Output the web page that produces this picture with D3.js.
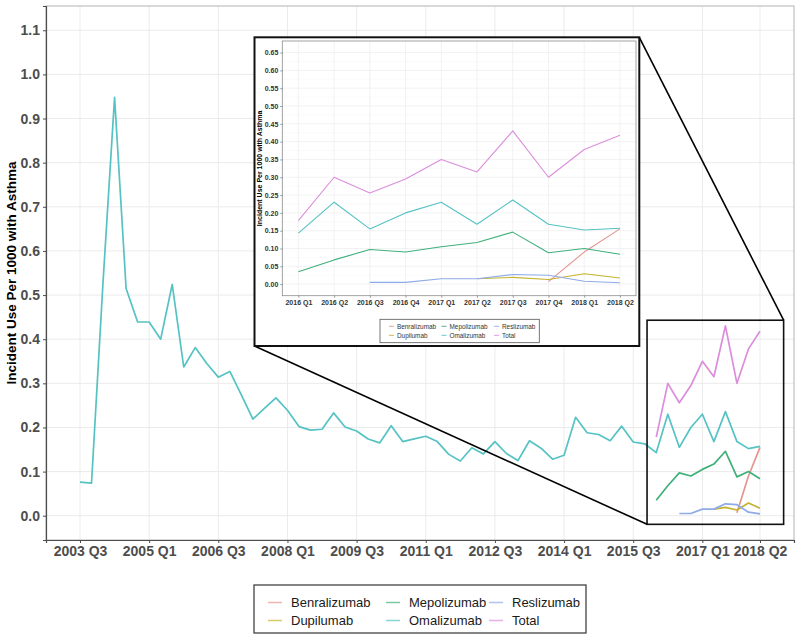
<!DOCTYPE html>
<html><head><meta charset="utf-8">
<script src="https://cdn.jsdelivr.net/npm/d3@7/dist/d3.min.js"></script>
<style>body{margin:0;background:#fff}svg{display:block;font-family:"Liberation Sans",Arial,sans-serif}</style>
</head><body><svg id="c" width="800" height="640"></svg>
<script>
const quarters = ["2003 Q3","2003 Q4","2004 Q1","2004 Q2","2004 Q3","2004 Q4","2005 Q1","2005 Q2","2005 Q3","2005 Q4",
"2006 Q1","2006 Q2","2006 Q3","2006 Q4","2007 Q1","2007 Q2","2007 Q3","2007 Q4","2008 Q1","2008 Q2",
"2008 Q3","2008 Q4","2009 Q1","2009 Q2","2009 Q3","2009 Q4","2010 Q1","2010 Q2","2010 Q3","2010 Q4",
"2011 Q1","2011 Q2","2011 Q3","2011 Q4","2012 Q1","2012 Q2","2012 Q3","2012 Q4","2013 Q1","2013 Q2",
"2013 Q3","2013 Q4","2014 Q1","2014 Q2","2014 Q3","2014 Q4","2015 Q1","2015 Q2","2015 Q3","2015 Q4",
"2016 Q1","2016 Q2","2016 Q3","2016 Q4","2017 Q1","2017 Q2","2017 Q3","2017 Q4","2018 Q1","2018 Q2"];
const omalizumab = [0.076,0.074,0.530,0.948,0.515,0.439,0.439,0.400,0.524,0.337,
0.381,0.345,0.314,0.327,0.274,0.219,0.243,0.267,0.239,0.202,
0.194,0.196,0.233,0.201,0.192,0.174,0.165,0.204,0.168,0.174,
0.180,0.168,0.139,0.124,0.154,0.140,0.168,0.141,0.125,0.170,
0.153,0.128,0.137,0.223,0.188,0.184,0.170,0.203,0.167,0.163,
0.143,0.230,0.155,0.200,0.230,0.168,0.236,0.168,0.152,0.157];
// 2016 Q1 .. 2018 Q2
const recentQuarters = ["2016 Q1","2016 Q2","2016 Q3","2016 Q4","2017 Q1","2017 Q2","2017 Q3","2017 Q4","2018 Q1","2018 Q2"];
const benralizumab = [null,null,null,null,null,null,null,0.007,0.090,0.155];
const dupilumab    = [null,null,null,null,null,0.015,0.019,0.013,0.029,0.017];
const mepolizumab  = [0.035,0.068,0.097,0.090,0.105,0.117,0.146,0.088,0.100,0.084];
const reslizumab   = [null,null,0.005,0.005,0.015,0.015,0.027,0.025,0.008,0.004];
const total        = [0.178,0.300,0.256,0.295,0.350,0.315,0.430,0.300,0.378,0.418];
const seriesNames = ["Benralizumab","Dupilumab","Mepolizumab","Omalizumab","Reslizumab","Total"];
const mainTickLabels = ["2003 Q3","2005 Q1","2006 Q3","2008 Q1","2009 Q3","2011 Q1","2012 Q3","2014 Q1","2015 Q3","2017 Q1","2018 Q2"];
const mainYTicks = [0.0,0.1,0.2,0.3,0.4,0.5,0.6,0.7,0.8,0.9,1.0,1.1];
const insetYTicks = [0,0.05,0.10,0.15,0.20,0.25,0.30,0.35,0.40,0.45,0.50,0.55,0.60,0.65];

const colors = {Benralizumab:"#e5948e",Dupilumab:"#c4b32e",Mepolizumab:"#3fb07a",Omalizumab:"#55c2c3",Reslizumab:"#8eaae8",Total:"#dc8ddc"};
const offset = quarters.indexOf("2016 Q1");
const recentData = {Benralizumab:benralizumab,Dupilumab:dupilumab,Mepolizumab:mepolizumab,
  Omalizumab:omalizumab.slice(offset),Reslizumab:reslizumab,Total:total};

const svg = d3.select("#c");
svg.append("rect").attr("width",800).attr("height",640).attr("fill","#fff");

// ---------- main panel ----------
const P = {l:46,r:794,t:6,b:540};
const x = d3.scaleLinear().domain([-2.95,61.95]).range([P.l,P.r]);
const y = d3.scaleLinear().domain([-0.055,1.155]).range([P.b,P.t]);
const g = svg.append("g");
g.selectAll(".gy").data(mainYTicks).join("line").attr("x1",P.l).attr("x2",P.r)
 .attr("y1",d=>y(d)).attr("y2",d=>y(d)).attr("stroke","#ebebeb").attr("stroke-width",1);
g.selectAll(".gx").data(mainTickLabels).join("line").attr("y1",P.t).attr("y2",P.b)
 .attr("x1",d=>x(quarters.indexOf(d))).attr("x2",d=>x(quarters.indexOf(d))).attr("stroke","#ebebeb").attr("stroke-width",1);
g.append("rect").attr("x",P.l).attr("y",P.t).attr("width",P.r-P.l).attr("height",P.b-P.t)
 .attr("fill","none").attr("stroke","#b3b3b3").attr("stroke-width",1);

const line = (xs,ys)=>d3.line().defined(d=>d.v!=null).x(d=>xs(d.i)).y(d=>ys(d.v));
const mainLine = line(x,y);
seriesNames.forEach(name=>{
  let pts;
  if(name==="Omalizumab") pts = omalizumab.map((v,i)=>({i,v}));
  else pts = recentData[name].map((v,k)=>({i:k+offset,v}));
  g.append("path").attr("d",mainLine(pts)).attr("fill","none").attr("stroke",colors[name])
   .attr("stroke-width",1.7).attr("stroke-linejoin","round");
});
const xAxis = d3.axisBottom(x).tickValues(mainTickLabels.map(d=>quarters.indexOf(d)))
  .tickFormat(i=>quarters[i]).tickSize(3).tickPadding(3);
const ax = svg.append("g").attr("transform",`translate(0,${P.b})`).call(xAxis);
const yAxis = d3.axisLeft(y).tickValues(mainYTicks).tickFormat(d3.format(".1f")).tickSize(3).tickPadding(3);
const ay = svg.append("g").attr("transform",`translate(${P.l},0)`).call(yAxis);
[ax,ay].forEach(a=>{
  a.select(".domain").attr("stroke","#4d4d4d").attr("stroke-width",1.2);
  a.selectAll(".tick line").attr("stroke","#4d4d4d");
  a.selectAll(".tick text").attr("fill","#4d4d4d").attr("font-size",14).attr("font-weight","bold")
   .attr("font-family","Liberation Sans, Arial, sans-serif");
});
svg.append("text").attr("transform",`translate(16,${(P.t+P.b)/2}) rotate(-90)`).attr("text-anchor","middle")
 .attr("font-size",13.5).attr("font-weight","bold").attr("fill","#000").text("Incident Use Per 1000 with Asthma");

// zoom box in main
const zx0 = x(49.2), zx1 = x(61.05), zy0 = y(0.443), zy1 = y(-0.0195);
svg.append("rect").attr("x",zx0).attr("y",zy0).attr("width",zx1-zx0).attr("height",zy1-zy0)
 .attr("fill","none").attr("stroke","#111").attr("stroke-width",1.6);

// ---------- inset ----------
const I = {x0:254.5,x1:639.3,y0:37.3,y1:346};
svg.append("line").attr("x1",I.x0).attr("y1",I.y1).attr("x2",zx0).attr("y2",zy1).attr("stroke","#000").attr("stroke-width",1.6);
svg.append("line").attr("x1",I.x1).attr("y1",I.y0).attr("x2",zx1).attr("y2",zy0).attr("stroke","#000").attr("stroke-width",1.6);
svg.append("rect").attr("x",I.x0).attr("y",I.y0).attr("width",I.x1-I.x0).attr("height",I.y1-I.y0)
 .attr("fill","#fff").attr("stroke","#111").attr("stroke-width",2);

const IP = {l:282.3,r:636,t:41,b:295.7};
const xi = d3.scaleLinear().domain([-0.45,9.45]).range([IP.l,IP.r]);
const yi = d3.scaleLinear().domain([-0.0325,0.6825]).range([IP.b,IP.t]);
const gi = svg.append("g");
gi.selectAll(".gy").data(insetYTicks).join("line").attr("x1",IP.l).attr("x2",IP.r)
 .attr("y1",d=>yi(d)).attr("y2",d=>yi(d)).attr("stroke","#ececec").attr("stroke-width",0.7);
gi.selectAll(".gy2").data(insetYTicks.slice(0,-1)).join("line").attr("x1",IP.l).attr("x2",IP.r)
 .attr("y1",d=>yi(d+0.025)).attr("y2",d=>yi(d+0.025)).attr("stroke","#f4f4f4").attr("stroke-width",0.5);
gi.selectAll(".gx").data(recentQuarters).join("line").attr("y1",IP.t).attr("y2",IP.b)
 .attr("x1",(d,i)=>xi(i)).attr("x2",(d,i)=>xi(i)).attr("stroke","#ececec").attr("stroke-width",0.7);
const insetLine = line(xi,yi);
seriesNames.forEach(name=>{
  const pts = recentData[name].map((v,k)=>({i:k,v}));
  gi.append("path").attr("d",insetLine(pts)).attr("fill","none").attr("stroke",colors[name])
   .attr("stroke-width",1.1).attr("stroke-linejoin","round");
});
gi.append("rect").attr("x",IP.l).attr("y",IP.t).attr("width",IP.r-IP.l).attr("height",IP.b-IP.t)
 .attr("fill","none").attr("stroke","#8c8c8c").attr("stroke-width",0.8);
const xiAxis = d3.axisBottom(xi).tickValues(d3.range(recentQuarters.length)).tickFormat(i=>recentQuarters[i]).tickSize(2).tickPadding(2);
const yiAxis = d3.axisLeft(yi).tickValues(insetYTicks).tickFormat(d3.format(".2f")).tickSize(2).tickPadding(2);
const axi = svg.append("g").attr("transform",`translate(0,${IP.b})`).call(xiAxis);
const ayi = svg.append("g").attr("transform",`translate(${IP.l},0)`).call(yiAxis);
[axi,ayi].forEach(a=>{
  a.select(".domain").remove();
  a.selectAll(".tick line").attr("stroke","#555").attr("stroke-width",0.6);
  a.selectAll(".tick text").attr("fill","#333").attr("font-size",7).attr("font-weight","bold")
   .attr("font-family","Liberation Sans, Arial, sans-serif");
});
svg.append("text").attr("transform",`translate(262,${(IP.t+IP.b)/2}) rotate(-90)`).attr("text-anchor","middle")
 .attr("font-size",7).attr("font-weight","bold").attr("fill","#000").text("Incident Use Per 1000 with Asthma");
const IL = {x:380,y:319.3,w:159.3,h:23.4};
svg.append("rect").attr("x",IL.x).attr("y",IL.y).attr("width",IL.w).attr("height",IL.h)
 .attr("fill","#fff").attr("stroke","#555").attr("stroke-width",0.8);
const ilCols = [389,441.5,494], ilRows = [326.3,335.3];
seriesNames.forEach((name,k)=>{
  const c = Math.floor(k/2), r = k%2;
  svg.append("line").attr("x1",ilCols[c]).attr("x2",ilCols[c]+5).attr("y1",ilRows[r]).attr("y2",ilRows[r])
   .attr("stroke",colors[name]).attr("stroke-width",0.9);
  svg.append("text").attr("x",ilCols[c]+8).attr("y",ilRows[r]).attr("dy","0.35em")
   .attr("font-size",6.4).attr("fill","#333").text(name);
});

// ---------- bottom legend ----------
const L = {x:254,y:585,w:332,h:48};
svg.append("rect").attr("x",L.x).attr("y",L.y).attr("width",L.w).attr("height",L.h)
 .attr("fill","#fff").attr("stroke","#333").attr("stroke-width",1.2);
const lCols = [268,386,489], lRows = [602.5,620.5];
seriesNames.forEach((name,k)=>{
  const c = Math.floor(k/2), r = k%2;
  svg.append("line").attr("x1",lCols[c]).attr("x2",lCols[c]+14).attr("y1",lRows[r]).attr("y2",lRows[r])
   .attr("stroke",colors[name]).attr("stroke-opacity",0.7).attr("stroke-width",1.5);
  svg.append("text").attr("x",lCols[c]+23).attr("y",lRows[r]).attr("dy","0.35em")
   .attr("font-size",13).attr("fill","#1a1a1a").text(name);
});
</script></body></html>
